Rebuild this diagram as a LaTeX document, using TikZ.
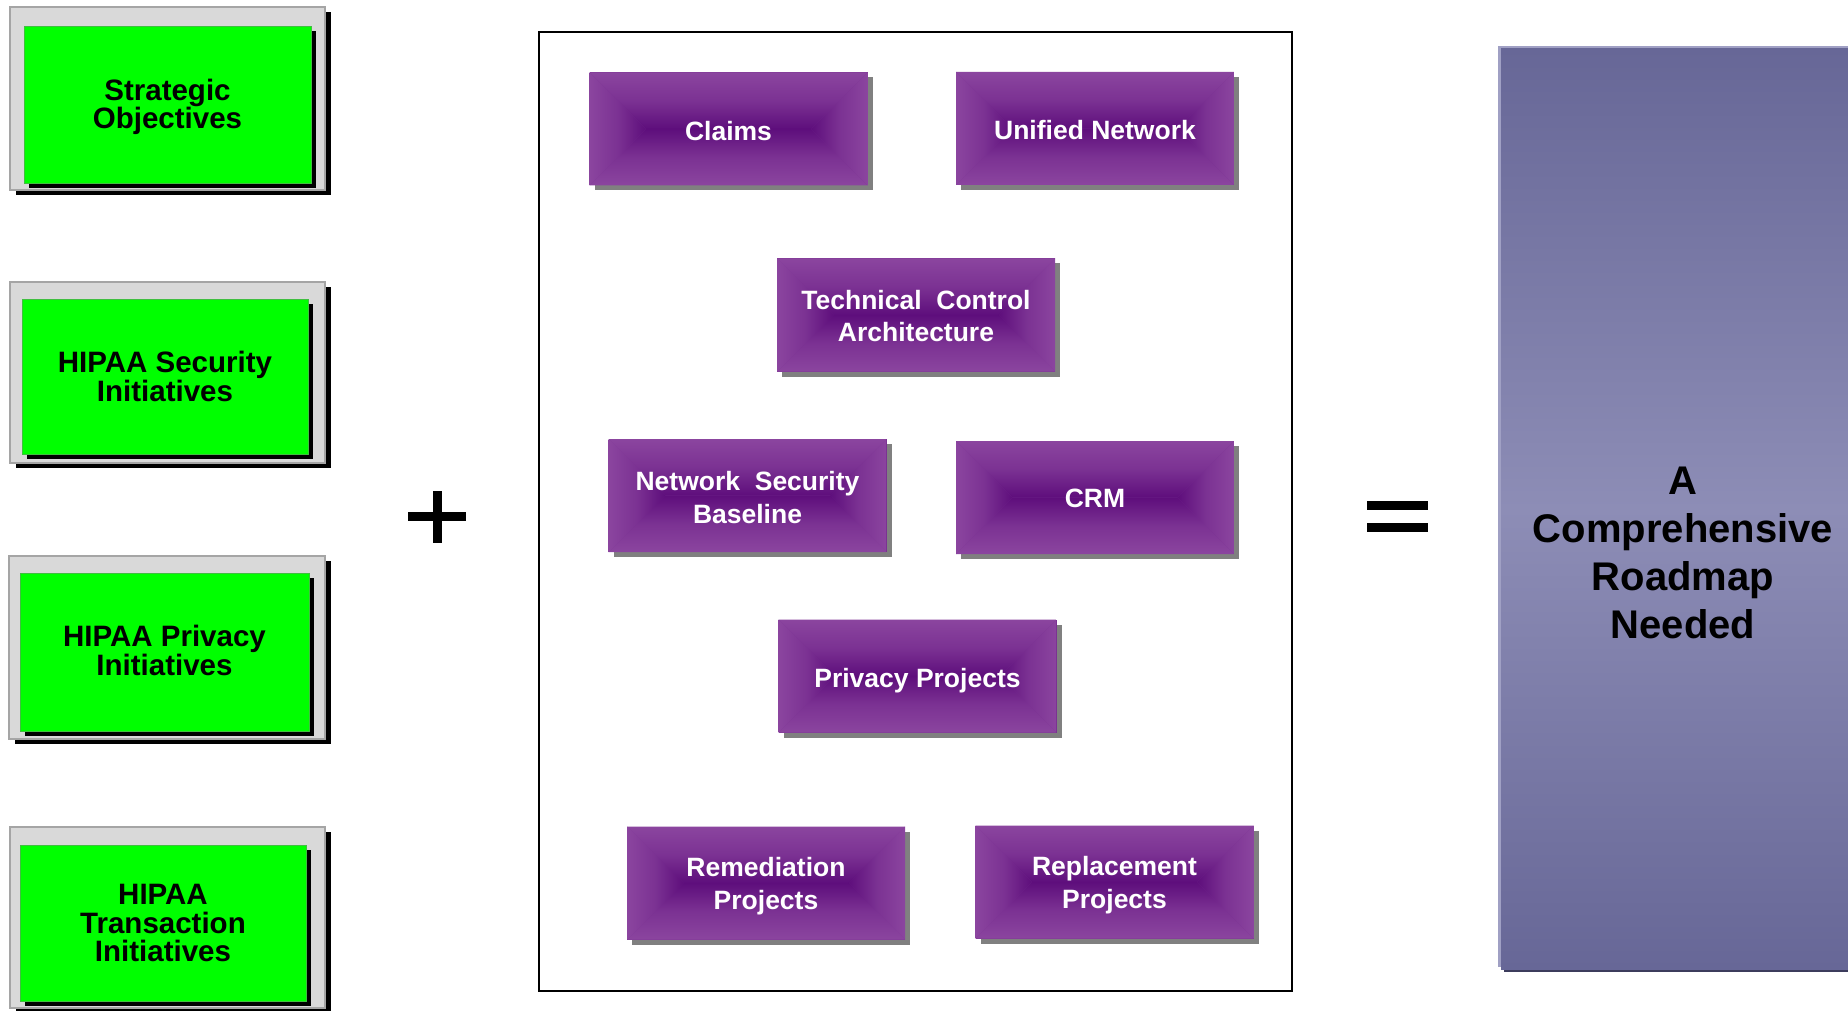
\documentclass[tikz,border=0pt]{standalone}
\usepackage{fontspec}
\setmainfont{Liberation Sans}
\usetikzlibrary{shadows}
\definecolor{pE}{RGB}{139,69,159}
\definecolor{pC}{RGB}{94,14,124}
\colorlet{pM}{pE!65!pC}
\definecolor{frameFill}{RGB}{217,217,217}
\definecolor{frameLine}{RGB}{165,165,165}
\definecolor{greenFill}{RGB}{0,255,0}
\definecolor{rbT}{RGB}{103,103,151}
\definecolor{rbM}{RGB}{141,141,182}
\definecolor{rbL}{RGB}{160,160,196}
\definecolor{rbD}{RGB}{60,60,92}
\tikzset{
  frame/.style={draw=frameLine, line width=1.5pt, fill=frameFill, inner sep=0pt,
    drop shadow={shadow xshift=6pt, shadow yshift=-5pt, fill=black, opacity=1}},
  greenbox/.style={fill=greenFill, draw=green!50!gray, line width=0.6pt, inner sep=0pt,
    drop shadow={shadow xshift=5pt, shadow yshift=-5pt, fill=black, opacity=1}},
  greentext/.style={inner sep=0pt, align=center, font=\bfseries\fontsize{29.5}{28.5}\selectfont},
  projfill/.style={path picture={
    \coordinate (qa) at (path picture bounding box.north west);
    \coordinate (qb) at (path picture bounding box.north east);
    \coordinate (qc) at (path picture bounding box.south east);
    \coordinate (qd) at (path picture bounding box.south west);
    \coordinate (ql) at ([xshift=56.5pt]path picture bounding box.west);
    \coordinate (qr) at ([xshift=-56.5pt]path picture bounding box.east);
    \shade[top color=pE, bottom color=pC, middle color=pM] (qa) -- (qb) -- (qr) -- (ql) -- cycle;
    \shade[top color=pC, bottom color=pE, middle color=pM] (qd) -- (qc) -- (qr) -- (ql) -- cycle;
    \shade[left color=pE, right color=pC, middle color=pM] (qa) -- (ql) -- (qd) -- cycle;
    \shade[left color=pC, right color=pE, middle color=pM] (qb) -- (qr) -- (qc) -- cycle;
  }},
  projbox/.style={minimum width=278pt, minimum height=113pt, inner sep=0pt, fill=pM,
    drop shadow={shadow xshift=5pt, shadow yshift=-5pt, fill=black!50, opacity=1},
    projfill},
  projtext/.style={inner sep=0pt, text=white, align=center,
    font=\bfseries\fontsize{26.5}{32.5}\selectfont},
  panel/.style={draw=black, line width=2.5pt, fill=white, inner sep=0pt},
  goalbox/.style={inner sep=0pt, top color=rbT, bottom color=rbT, middle color=rbM,
    drop shadow={shadow xshift=3pt, shadow yshift=-3pt, fill=rbD, opacity=1}},
  goaltext/.style={inner sep=0pt, align=center, font=\bfseries\fontsize{40}{48}\selectfont}
}
\begin{document}
\begin{tikzpicture}[x=1pt, y=-1pt]
\useasboundingbox (0,0) rectangle (1848,1011);

% left green boxes
\node[frame, minimum width=315pt, minimum height=183pt] (f1) at (167.5,98.5) {};
\node[greenbox, minimum width=287pt, minimum height=157pt] (g1) at (167.5,104.5) {};
\node[greentext] (g1t) at ([yshift=-2.4pt]g1.center) {Strategic\\Objectives};
\node[frame, minimum width=315pt, minimum height=181pt] (f2) at (167.5,372.5) {};
\node[greenbox, minimum width=286pt, minimum height=155pt] (g2) at (165,376.5) {};
\node[greentext] (g2t) at (g2.center) {HIPAA Security\\Initiatives};
\node[frame, minimum width=316pt, minimum height=183pt] (f3) at (167,647.5) {};
\node[greenbox, minimum width=289pt, minimum height=158pt] (g3) at (164.5,652) {};
\node[greentext] (g3t) at ([yshift=1.5pt]g3.center) {HIPAA Privacy\\Initiatives};
\node[frame, minimum width=315pt, minimum height=181pt] (f4) at (167.5,917.5) {};
\node[greenbox, minimum width=286pt, minimum height=156pt] (g4) at (163,923) {};
\node[greentext] (g4t) at (g4.center) {HIPAA\\Transaction\\Initiatives};

% plus sign
\fill[black] (433,491) rectangle (442,543);
\fill[black] (408,512) rectangle (466,521);

% middle panel
\node[panel, minimum width=753pt, minimum height=959pt] (pnl) at (915.5,511.5) {};
\node[projbox] (claims) at (728.5,129) {};
\node[projtext] (claimsT) at ([yshift=-2.4pt]claims.center) {Claims};
\node[projbox] (unified) at (1095,128.5) {};
\node[projtext] (unifiedT) at ([yshift=-1.2pt]unified.center) {Unified Network};
\node[projbox] (tca) at (916,315) {};
\node[projtext] (tcaT) at ([yshift=-0.8pt]tca.center) {Technical\ \ Control\\Architecture};
\node[projbox] (nsb) at (747.5,495.5) {};
\node[projtext] (nsbT) at ([yshift=-1.8pt]nsb.center) {Network\ \ Security\\Baseline};
\node[projbox] (crm) at (1095,497.5) {};
\node[projtext] (crmT) at ([yshift=-1.2pt]crm.center) {CRM};
\node[projbox] (privacy) at (917.5,676) {};
\node[projtext] (privacyT) at ([yshift=-4.5pt]privacy.center) {Privacy Projects};
\node[projbox] (remed) at (766,883) {};
\node[projtext] (remedT) at ([yshift=-3pt]remed.center) {Remediation\\Projects};
\node[projbox] (replace) at (1114.5,882) {};
\node[projtext] (replaceT) at ([yshift=-3pt]replace.center) {Replacement\\Projects};

% equals sign
\fill[black] (1367,501) rectangle (1428,510);
\fill[black] (1367,523) rectangle (1428,532);

% right box
\fill[rbL] (1498,46) rectangle (1870,967);
\node[goalbox, minimum width=369pt, minimum height=920pt] (goal) at (1685.5,509) {};
\node[goaltext] (goaltxt) at (1683,553.4) {A\\Comprehensive\\Roadmap\\Needed};
\end{tikzpicture}
\end{document}
